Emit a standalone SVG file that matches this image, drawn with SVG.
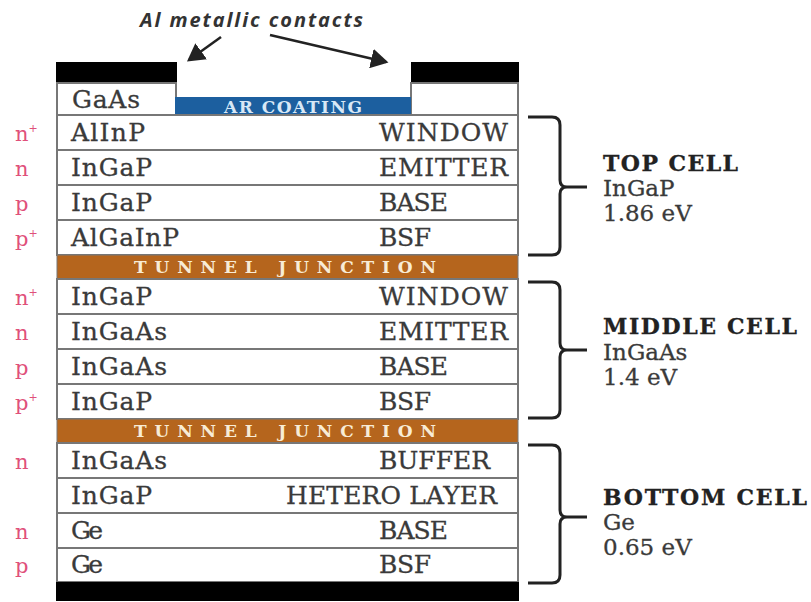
<svg xmlns="http://www.w3.org/2000/svg" width="811" height="602" viewBox="0 0 811 602">
<style>
.lay{fill:#fff;stroke:#777;stroke-width:2}
.t{font-family:"DejaVu Serif","Liberation Serif",serif;font-size:25px;fill:#3a3a3a;stroke:#3a3a3a;stroke-width:0.3}
.d{font-family:"DejaVu Serif","Liberation Serif",serif;font-size:21px;fill:#e0507a}
.sup{font-size:11px}
.tj{fill:#b5651d;stroke:#777;stroke-width:1}
.tjt{font-family:"DejaVu Serif","Liberation Serif",serif;font-size:17px;font-weight:bold;fill:#f8ecd6}
.metal{fill:#000}
.cell{font-family:"DejaVu Serif","Liberation Serif",serif;font-size:23px;fill:#3a3a3a;stroke:#3a3a3a;stroke-width:0.3}
.b{font-size:22px;font-weight:bold;fill:#222;stroke:#222}
.br{fill:none;stroke:#222;stroke-width:3}
.ar{stroke:#222;stroke-width:2.5;fill:none}
</style>
<defs>
<marker id="ah" markerWidth="8" markerHeight="8" refX="6" refY="4" orient="auto" markerUnits="strokeWidth">
<path d="M0,0 L7,4 L0,8 Z" fill="#222"/>
</marker>
</defs>

<g id="annotation">
<text x="140" y="27" textLength="223" font-family="'Open Sans','DejaVu Sans',sans-serif" font-size="20" font-style="italic" font-weight="bold" fill="#333">Al metallic contacts</text>
</g>

<g id="connectors">
<line class="ar" x1="221" y1="37" x2="189" y2="60" marker-end="url(#ah)"/>
<line class="ar" x1="270" y1="35" x2="386" y2="62" marker-end="url(#ah)"/>
</g>

<g id="contacts-top">
<rect class="metal" x="56" y="62" width="121" height="21"/>
<rect class="metal" x="411" y="62" width="108" height="21"/>
</g>

<g id="gaas">
<rect class="lay" x="57" y="83" width="119" height="32"/>
<rect class="lay" x="411" y="83" width="107" height="32"/>
<text class="t" x="72" y="108" textLength="68">GaAs</text>
</g>
<g id="ar-coating">
<rect x="175" y="97" width="236" height="18" fill="#1c5f9f"/>
<text x="293" y="113" text-anchor="middle" textLength="138" font-family="'DejaVu Serif','Liberation Serif',serif" font-size="17" font-weight="bold" fill="#d8e8f6">AR COATING</text>
</g>

<g id="top-window"><rect class="lay" x="57" y="115" width="461" height="35"/>
<text class="d" x="15" y="141">n<tspan class="sup" dy="-9">+</tspan></text>
<text class="t" x="71" y="141" textLength="74">AlInP</text><text class="t" x="379" y="141" textLength="129">WINDOW</text></g>
<g id="top-emitter"><rect class="lay" x="57" y="150" width="461" height="35"/>
<text class="d" x="15" y="176">n</text>
<text class="t" x="71" y="176" textLength="81">InGaP</text><text class="t" x="379" y="176" textLength="129">EMITTER</text></g>
<g id="top-base"><rect class="lay" x="57" y="185" width="461" height="35"/>
<text class="d" x="15" y="211">p</text>
<text class="t" x="71" y="211" textLength="81">InGaP</text><text class="t" x="379" y="211" textLength="69">BASE</text></g>
<g id="top-bsf"><rect class="lay" x="57" y="220" width="461" height="35"/>
<text class="d" x="15" y="246">p<tspan class="sup" dy="-9">+</tspan></text>
<text class="t" x="71" y="246" textLength="108">AlGaInP</text><text class="t" x="379" y="246" textLength="52">BSF</text></g>

<g id="tunnel-1"><rect class="tj" x="57" y="255" width="461" height="24"/>
<text class="tjt" x="134" y="273" textLength="302">TUNNEL JUNCTION</text></g>

<g id="mid-window"><rect class="lay" x="57" y="279" width="461" height="35"/>
<text class="d" x="15" y="305">n<tspan class="sup" dy="-9">+</tspan></text>
<text class="t" x="71" y="305" textLength="81">InGaP</text><text class="t" x="379" y="305" textLength="129">WINDOW</text></g>
<g id="mid-emitter"><rect class="lay" x="57" y="314" width="461" height="35"/>
<text class="d" x="15" y="340">n</text>
<text class="t" x="71" y="340" textLength="96">InGaAs</text><text class="t" x="379" y="340" textLength="129">EMITTER</text></g>
<g id="mid-base"><rect class="lay" x="57" y="349" width="461" height="35"/>
<text class="d" x="15" y="375">p</text>
<text class="t" x="71" y="375" textLength="96">InGaAs</text><text class="t" x="379" y="375" textLength="69">BASE</text></g>
<g id="mid-bsf"><rect class="lay" x="57" y="384" width="461" height="35"/>
<text class="d" x="15" y="410">p<tspan class="sup" dy="-9">+</tspan></text>
<text class="t" x="71" y="410" textLength="81">InGaP</text><text class="t" x="379" y="410" textLength="52">BSF</text></g>

<g id="tunnel-2"><rect class="tj" x="57" y="419" width="461" height="24"/>
<text class="tjt" x="134" y="437" textLength="302">TUNNEL JUNCTION</text></g>

<g id="bot-buffer"><rect class="lay" x="57" y="443" width="461" height="35"/>
<text class="d" x="15" y="469">n</text>
<text class="t" x="71" y="469" textLength="96">InGaAs</text><text class="t" x="379" y="469" textLength="111">BUFFER</text></g>
<g id="bot-hetero"><rect class="lay" x="57" y="478" width="461" height="35"/>
<text class="t" x="71" y="504" textLength="81">InGaP</text><text class="t" x="286" y="504" textLength="211">HETERO LAYER</text></g>
<g id="bot-base"><rect class="lay" x="57" y="513" width="461" height="35"/>
<text class="d" x="15" y="539">n</text>
<text class="t" x="71" y="539" textLength="32">Ge</text><text class="t" x="379" y="539" textLength="69">BASE</text></g>
<g id="bot-bsf"><rect class="lay" x="57" y="548" width="461" height="34"/>
<text class="d" x="15" y="573">p</text>
<text class="t" x="71" y="573" textLength="32">Ge</text><text class="t" x="379" y="573" textLength="52">BSF</text></g>

<g id="contact-bottom"><rect class="metal" x="56" y="582" width="463" height="19"/></g>

<g id="top-cell">
<path class="br" d="M528,117 H552 Q560,117 560,125 V180 Q560,187 567,187 H587 M567,187 Q560,187 560,194 V247 Q560,255 552,255 H528"/>
<text class="cell b" x="603" y="171" textLength="135">TOP CELL</text>
<text class="cell" x="603" y="196">InGaP</text>
<text class="cell" x="603" y="221">1.86 eV</text>
</g>
<g id="middle-cell">
<path class="br" d="M528,282 H552 Q560,282 560,290 V343 Q560,350 567,350 H587 M567,350 Q560,350 560,357 V410 Q560,418 552,418 H528"/>
<text class="cell b" x="603" y="334" textLength="194">MIDDLE CELL</text>
<text class="cell" x="603" y="360">InGaAs</text>
<text class="cell" x="603" y="385">1.4 eV</text>
</g>
<g id="bottom-cell">
<path class="br" d="M528,445 H552 Q560,445 560,453 V510 Q560,517 567,517 H587 M567,517 Q560,517 560,524 V575 Q560,583 552,583 H528"/>
<text class="cell b" x="603" y="505" textLength="204">BOTTOM CELL</text>
<text class="cell" x="603" y="530">Ge</text>
<text class="cell" x="603" y="555">0.65 eV</text>
</g>
</svg>
